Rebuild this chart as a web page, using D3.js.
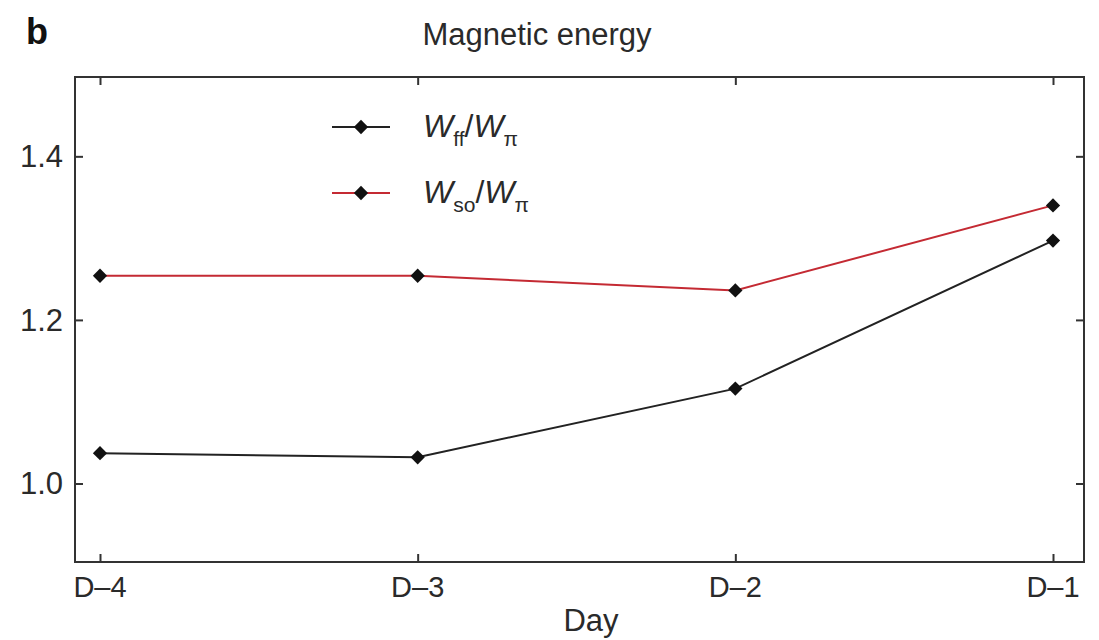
<!DOCTYPE html>
<html>
<head>
<meta charset="utf-8">
<script src="https://cdn.jsdelivr.net/npm/d3@7/dist/d3.min.js"></script>
<style>
  html, body { margin: 0; padding: 0; background: #fff; }
  svg { display: block; font-family: "Liberation Sans", Arial, Helvetica, sans-serif; }
</style>
</head>
<body>
<svg id="chart" width="1099" height="640"></svg>
<script>
// Magnetic energy ratios over the four days before the event
const days = ["D\u20134", "D\u20133", "D\u20132", "D\u20131"];
const wffRatio = [1.037, 1.032, 1.116, 1.297];
const wsoRatio = [1.254, 1.254, 1.236, 1.340];
const yTicks = [1.0, 1.2, 1.4];

const svg = d3.select("#chart");
const frame = { left: 75, right: 1084, top: 77, bottom: 562 };
const textColor = "#2a2a2a";

const x = d3.scaleLinear().domain([0, days.length - 1]).range([100, 1053]);
const y = d3.scaleLinear().domain([0.904, 1.497]).range([frame.bottom, frame.top]);

// Panel letter and title
svg.append("text").attr("x", 26).attr("y", 44)
  .attr("font-size", 36).attr("font-weight", "bold").attr("fill", "#111").text("b");
svg.append("text").attr("x", 537).attr("y", 45).attr("text-anchor", "middle")
  .attr("font-size", 31).attr("fill", textColor).text("Magnetic energy");

// Frame
svg.append("rect")
  .attr("x", frame.left).attr("y", frame.top)
  .attr("width", frame.right - frame.left).attr("height", frame.bottom - frame.top)
  .attr("fill", "none").attr("stroke", "#333").attr("stroke-width", 2);

// Inward ticks on all four sides
const tickLen = 8;
const axisStyle = g => {
  g.select(".domain").remove();
  g.selectAll(".tick line").attr("stroke", "#333").attr("stroke-width", 2);
  g.selectAll(".tick text").remove();
};

svg.append("g").attr("transform", `translate(${frame.left},0)`)
  .call(d3.axisRight(y).tickValues(yTicks).tickSize(tickLen))
  .call(axisStyle);
svg.append("g").attr("transform", `translate(${frame.right},0)`)
  .call(d3.axisLeft(y).tickValues(yTicks).tickSize(tickLen))
  .call(axisStyle);
svg.append("g").attr("transform", `translate(0,${frame.bottom})`)
  .call(d3.axisTop(x).tickValues(d3.range(days.length)).tickSize(tickLen))
  .call(axisStyle);
svg.append("g").attr("transform", `translate(0,${frame.top})`)
  .call(d3.axisBottom(x).tickValues(d3.range(days.length)).tickSize(tickLen))
  .call(axisStyle);

// Tick labels outside the frame
svg.append("g").selectAll("text").data(yTicks).join("text")
  .attr("x", 63).attr("y", d => y(d) + 11).attr("text-anchor", "end")
  .attr("font-size", 31).attr("fill", textColor).text(d3.format(".1f"));
svg.append("g").selectAll("text").data(days).join("text")
  .attr("x", (d, i) => x(i)).attr("y", 597).attr("text-anchor", "middle")
  .attr("font-size", 29).attr("fill", textColor).text(d => d);
svg.append("text").attr("x", 591).attr("y", 631).attr("text-anchor", "middle")
  .attr("font-size", 31).attr("fill", textColor).text("Day");

// Series
const diamond = d3.symbol().type(d3.symbolDiamond2).size(130);
const series = [
  { values: wsoRatio, color: "#c42a33" },
  { values: wffRatio, color: "#222" }
];
const line = d3.line().x((d, i) => x(i)).y(d => y(d));
series.forEach(s => {
  svg.append("path").datum(s.values).attr("d", line)
    .attr("fill", "none").attr("stroke", s.color).attr("stroke-width", 2);
  svg.append("g").selectAll("path").data(s.values).join("path")
    .attr("transform", (d, i) => `translate(${x(i)},${y(d)})`)
    .attr("d", diamond).attr("fill", "#111");
});

// Legend
const legend = [
  { color: "#222", sub: "ff", yPos: 127 },
  { color: "#c42a33", sub: "so", yPos: 193 }
];
legend.forEach(l => {
  svg.append("line").attr("x1", 332).attr("x2", 390).attr("y1", l.yPos).attr("y2", l.yPos)
    .attr("stroke", l.color).attr("stroke-width", 2);
  svg.append("path").attr("transform", `translate(361,${l.yPos})`).attr("d", diamond).attr("fill", "#111");
  const t = svg.append("text").attr("x", 423).attr("y", l.yPos + 10)
    .attr("font-size", 32).attr("fill", textColor);
  t.append("tspan").attr("font-style", "italic").text("W");
  t.append("tspan").attr("font-size", 21).attr("dy", 9).text(l.sub);
  t.append("tspan").attr("dy", -9).text("/");
  t.append("tspan").attr("font-style", "italic").text("W");
  t.append("tspan").attr("font-size", 21).attr("dy", 9).text("\u03c0");
});
</script>
</body>
</html>
